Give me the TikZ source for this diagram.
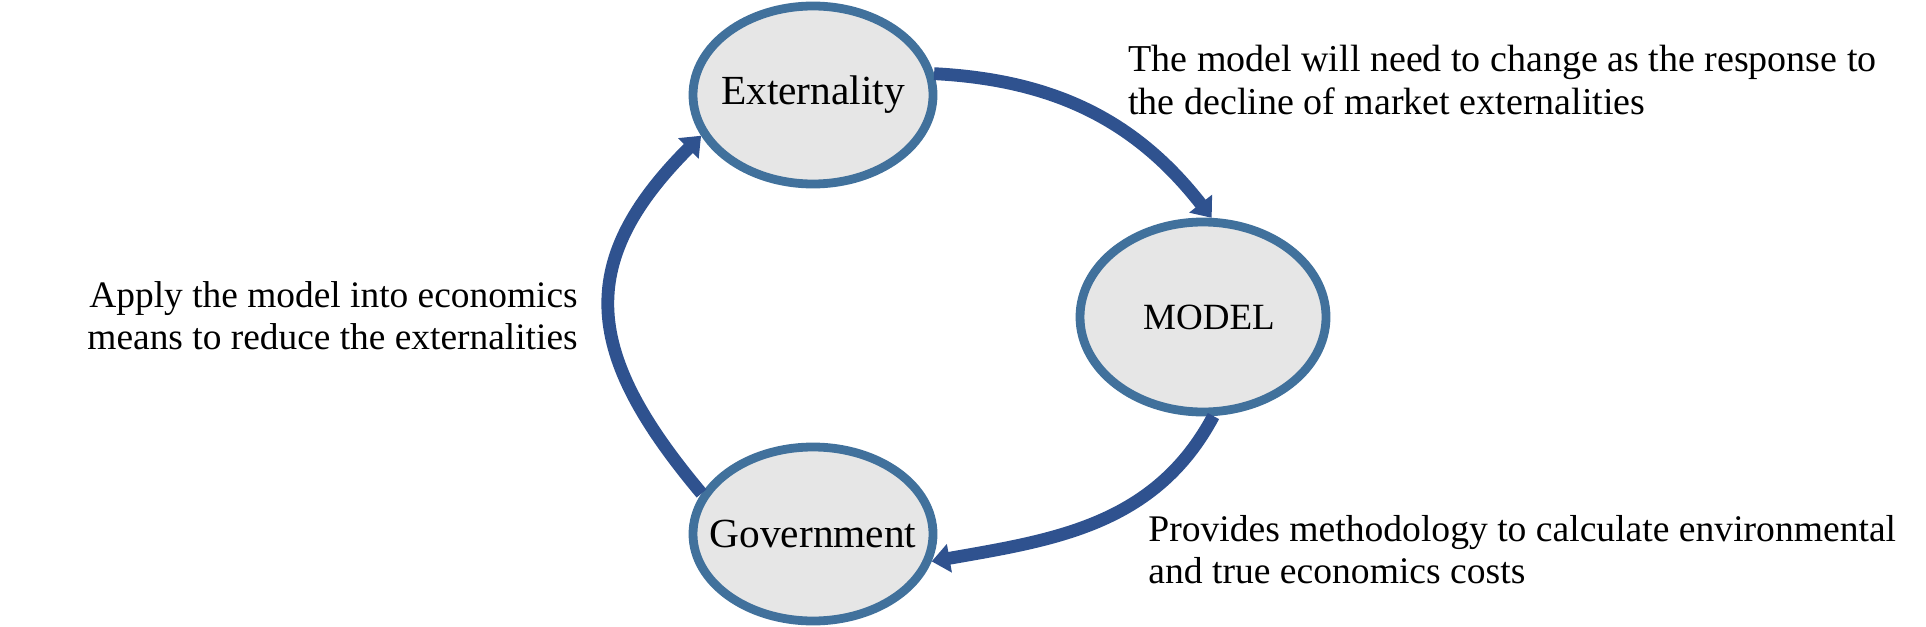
\documentclass[tikz,border=0pt]{standalone}
\usepackage{fontspec}
\setmainfont{Liberation Serif}
\usetikzlibrary{arrows.meta,shapes.geometric}
\definecolor{ringblue}{HTML}{41719C}
\definecolor{ringfill}{HTML}{E6E6E6}
\definecolor{flowblue}{HTML}{2F528F}
\begin{document}
\begin{tikzpicture}[x=0.5pt,y=-0.5pt,
  stage/.style={ellipse,draw=ringblue,fill=ringfill,line width=4.4pt,
    inner sep=0pt,font=\fontsize{20.7}{23}\selectfont},
  flow/.style={flowblue,line width=6.4pt,
    -{Triangle[width=14pt,length=9pt]}},
  note/.style={inner sep=0pt,font=\fontsize{19}{21.2}\selectfont}]
\useasboundingbox (0,0) rectangle (1926,626);

% Stages
\node[stage,minimum width=120pt,minimum height=89pt] (ext) at (813,95) {\makebox[0pt]{Externality}};
\node[stage,minimum width=123pt,minimum height=95pt] (model) at (1203,317)
  {\makebox[0pt]{\hspace{6pt}\fontsize{18.5}{21}\selectfont MODEL}};
\node[stage,minimum width=120pt,minimum height=87pt] (gov) at (813,534) {\makebox[0pt]{Government}};

% Cycle arrows
\draw[flow] (ext.10) to[out=-3,in=128] (model.85);
\draw[flow] (model.-84) to[out=-118,in=10] (gov.-13);
\draw[flow] (gov.160) to[out=130,in=-135,looseness=1.3] (ext.-160);

% Notes
\node[note,anchor=west,align=left] (n1) at (1128,80)
  {The model will need to change as the response to\\the decline of market externalities};
\node[note,anchor=east,align=right,font=\fontsize{18.7}{21}\selectfont] (n2) at (578,316)
  {Apply the model into economics\\means to reduce the externalities};
\node[note,anchor=west,align=left,font=\fontsize{18.8}{21}\selectfont] (n3) at (1148,550)
  {Provides methodology to calculate environmental\\and true economics costs};
\end{tikzpicture}
\end{document}
